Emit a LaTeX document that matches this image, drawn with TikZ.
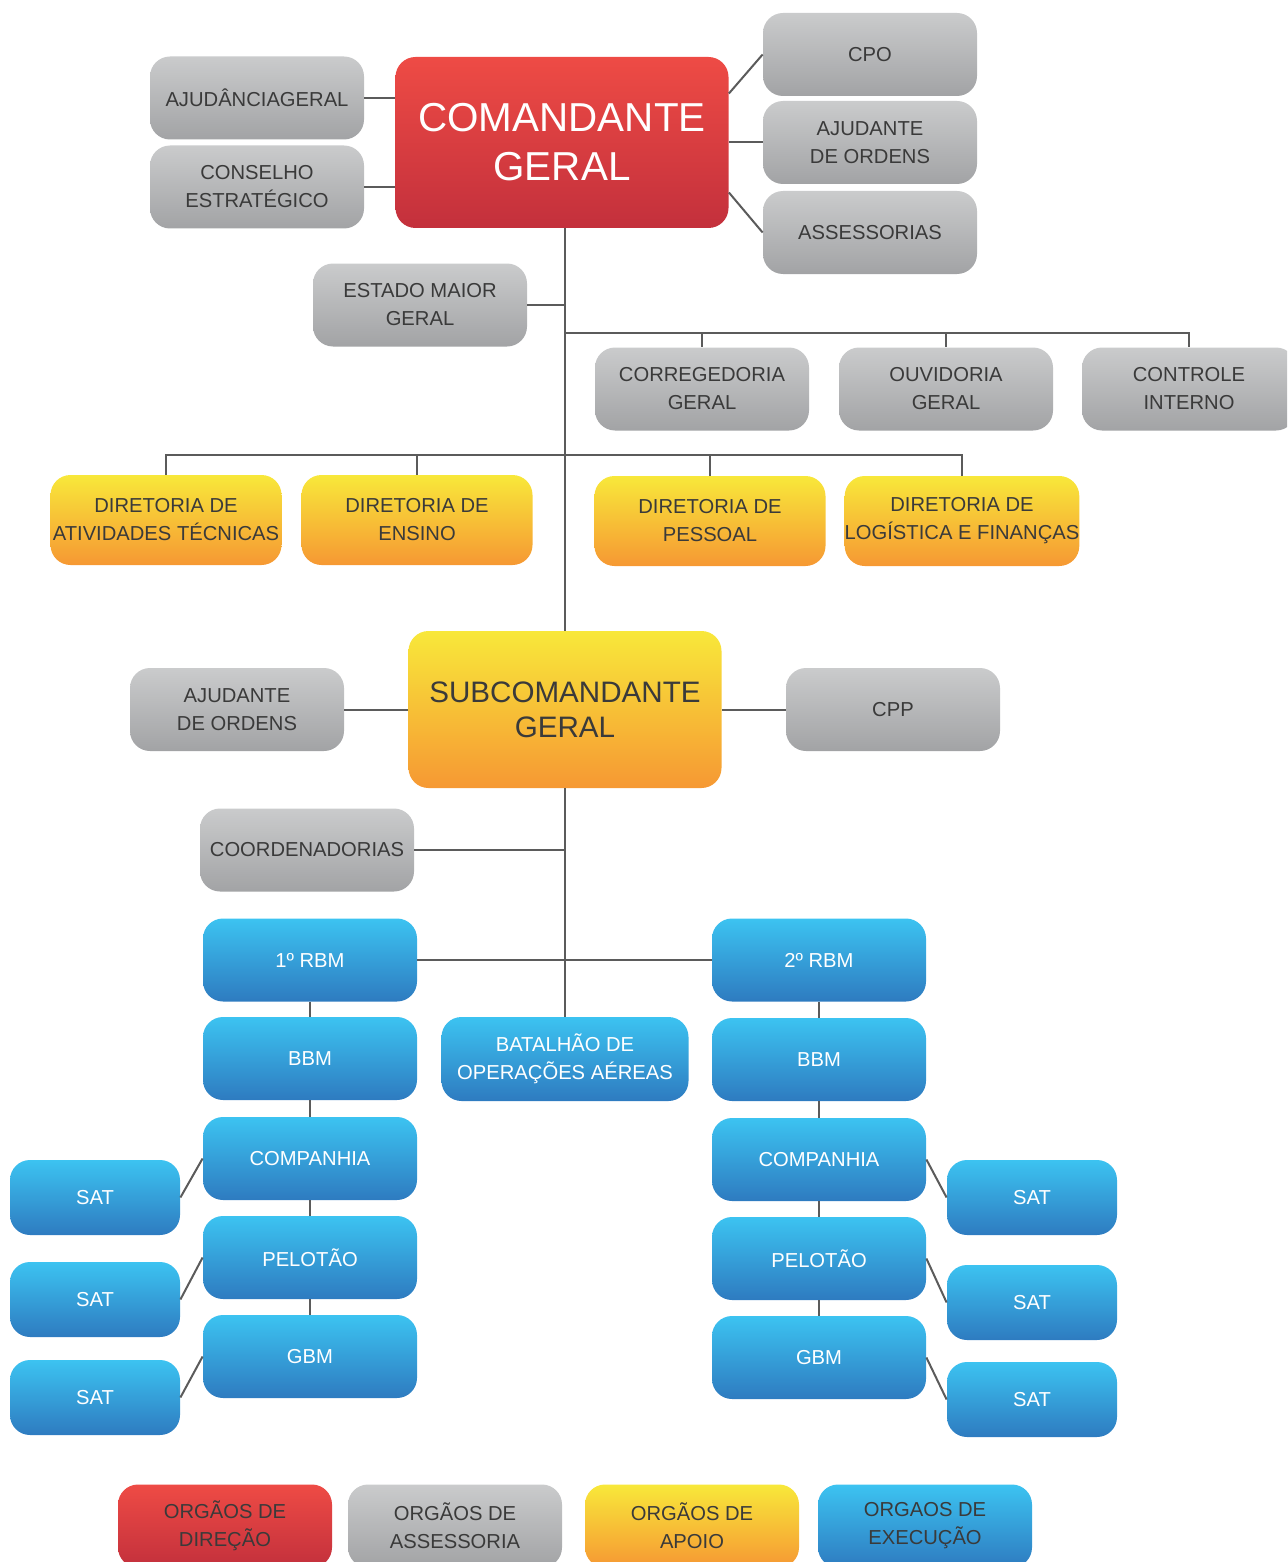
\documentclass[tikz,border=0pt]{standalone}
\usepackage{fontspec}
\setmainfont{Liberation Sans}
\definecolor{redtop}{HTML}{EE4B45}
\definecolor{redbot}{HTML}{C3303C}
\definecolor{graytop}{HTML}{CACBCC}
\definecolor{graybot}{HTML}{A2A3A5}
\definecolor{yeltop}{HTML}{F8E83A}
\definecolor{yelbot}{HTML}{F69833}
\definecolor{bluetop}{HTML}{3CC3F1}
\definecolor{bluebot}{HTML}{2E7BC0}
\definecolor{linkgray}{HTML}{5B5B5B}
\definecolor{textgray}{HTML}{3A3A3A}
\tikzset{%
  box/.style={rectangle,rounded corners=10pt,inner sep=0pt,align=center,
    minimum width=107pt,minimum height=41.5pt,
    font=\fontsize{10.1}{14}\selectfont},%
  redbox/.style={box,top color=redtop,bottom color=redbot,text=white},%
  graybox/.style={box,top color=graytop,bottom color=graybot,text=textgray},%
  yelbox/.style={box,top color=yeltop,bottom color=yelbot,text=textgray},%
  bluebox/.style={box,top color=bluetop,bottom color=bluebot,text=white},%
  dirbox/.style={yelbox,minimum width=115.5pt,minimum height=45pt},%
  satbox/.style={bluebox,minimum width=85pt,minimum height=37.5pt},%
  link/.style={draw=linkgray,line width=1pt}%
}
\begin{document}
\begin{tikzpicture}[x=0.5pt,y=-0.5pt] % 1 unit = 1 pixel of the reference

\clip (0,0) rectangle (1287,1562);

%% command level

\node[redbox,minimum width=166.5pt,minimum height=85.5pt,
  font=\fontsize{20.2}{24.5}\selectfont] (cg) at (562,142.5)
  {COMANDANTE\\GERAL};
\node[graybox] (ajg) at (257,98) {AJUDÂNCIAGERAL};
\node[graybox] (ces) at (257,187) {CONSELHO\\ESTRATÉGICO};
\node[graybox] (cpo) at (870,54.5) {CPO};
\node[graybox] (ajo) at (870,142.5) {AJUDANTE\\DE ORDENS};
\node[graybox] (ass) at (870,232.5) {ASSESSORIAS};
\node[graybox] (emg) at (420,305) {ESTADO MAIOR\\GERAL};
\node[graybox] (cor) at (702,389) {CORREGEDORIA\\GERAL};
\node[graybox] (ouv) at (946,389) {OUVIDORIA\\GERAL};
\node[graybox] (cin) at (1189,389) {CONTROLE\\INTERNO};

%% directorates

\node[dirbox] (dat) at (166,520) {DIRETORIA DE\\ATIVIDADES TÉCNICAS};
\node[dirbox] (den) at (417,520) {DIRETORIA DE\\ENSINO};
\node[dirbox] (dpe) at (710,521) {DIRETORIA DE\\PESSOAL};
\node[dirbox] (dlf) at (962,521) {DIRETORIA DE\\LOGÍSTICA E FINANÇAS};

%% sub-command level

\node[yelbox,minimum width=156.5pt,minimum height=78.5pt,
  font=\fontsize{14.8}{17.5}\selectfont] (scg) at (565,709.5)
  {SUBCOMANDANTE\\GERAL};
\node[graybox] (ajs) at (237,709.5) {AJUDANTE\\DE ORDENS};
\node[graybox] (cpp) at (893,709.5) {CPP};
\node[graybox] (coo) at (307,850) {COORDENADORIAS};

%% execution units

\node[bluebox] (rbma) at (310,960) {1º RBM};
\node[bluebox] (rbmb) at (819,960) {2º RBM};
\node[bluebox,minimum width=123.5pt,minimum height=42pt] (bao) at (565,1059)
  {BATALHÃO DE\\OPERAÇÕES AÉREAS};
\node[bluebox] (bbma) at (310,1058.5) {BBM};
\node[bluebox] (ciaa) at (310,1158.5) {COMPANHIA};
\node[bluebox] (pela) at (310,1257.5) {PELOTÃO};
\node[bluebox] (gbma) at (310,1356.5) {GBM};
\node[bluebox] (bbmb) at (819,1059.5) {BBM};
\node[bluebox] (ciab) at (819,1159.5) {COMPANHIA};
\node[bluebox] (pelb) at (819,1258.5) {PELOTÃO};
\node[bluebox] (gbmb) at (819,1357.5) {GBM};
\node[satbox] (sata) at (95,1197.5) {SAT};
\node[satbox] (satb) at (95,1299.5) {SAT};
\node[satbox] (satc) at (95,1397.5) {SAT};
\node[satbox] (satd) at (1032,1197.5) {SAT};
\node[satbox] (sate) at (1032,1302.5) {SAT};
\node[satbox] (satf) at (1032,1399.5) {SAT};

%% legend

\node[redbox,text=textgray] (lga) at (225,1526) {ORGÃOS DE\\DIREÇÃO};
\node[graybox] (lgb) at (455,1526) {ORGÃOS DE\\ASSESSORIA};
\node[yelbox] (lgc) at (692,1526) {ORGÃOS DE\\APOIO};
\node[bluebox,text=textgray] (lgd) at (925,1526) {ORGAOS DE\\EXECUÇÃO};

%% connectors

\coordinate (busa) at (565,333);
\coordinate (busb) at (565,455);
\draw[link] (cg.south -| scg.north) -- (scg.north);
\draw[link] (ajg.east) -- (ajg.east -| cg.west);
\draw[link] (ces.east) -- (ces.east -| cg.west);
\draw[link] ([yshift=24.5pt]cg.east) -- (cpo.west);
\draw[link] (cg.east) -- (ajo.west);
\draw[link] ([yshift=-25pt]cg.east) -- (ass.west);
\draw[link] (emg.east) -- (emg.east -| scg.north);
\draw[link] (busa) -| (cor.north);
\draw[link] (busa) -| (ouv.north);
\draw[link] (busa) -| (cin.north);
\draw[link] (busb) -| (dat.north);
\draw[link] (busb) -| (den.north);
\draw[link] (busb) -| (dpe.north);
\draw[link] (busb) -| (dlf.north);
\draw[link] (scg.west) -- (ajs.east);
\draw[link] (scg.east) -- (cpp.west);
\draw[link] (scg.south) -- (bao.north);
\draw[link] (coo.east) -- (coo.east -| scg.south);
\draw[link] (rbma.east) -- (rbmb.west);
\draw[link] (rbma.south) -- (bbma.north);
\draw[link] (bbma.south) -- (ciaa.north);
\draw[link] (ciaa.south) -- (pela.north);
\draw[link] (pela.south) -- (gbma.north);
\draw[link] (rbmb.south) -- (bbmb.north);
\draw[link] (bbmb.south) -- (ciab.north);
\draw[link] (ciab.south) -- (pelb.north);
\draw[link] (pelb.south) -- (gbmb.north);
\draw[link] (sata.east) -- (ciaa.west);
\draw[link] (satb.east) -- (pela.west);
\draw[link] (satc.east) -- (gbma.west);
\draw[link] (ciab.east) -- (satd.west);
\draw[link] (pelb.east) -- (sate.west);
\draw[link] (gbmb.east) -- (satf.west);

\end{tikzpicture}
\end{document}
